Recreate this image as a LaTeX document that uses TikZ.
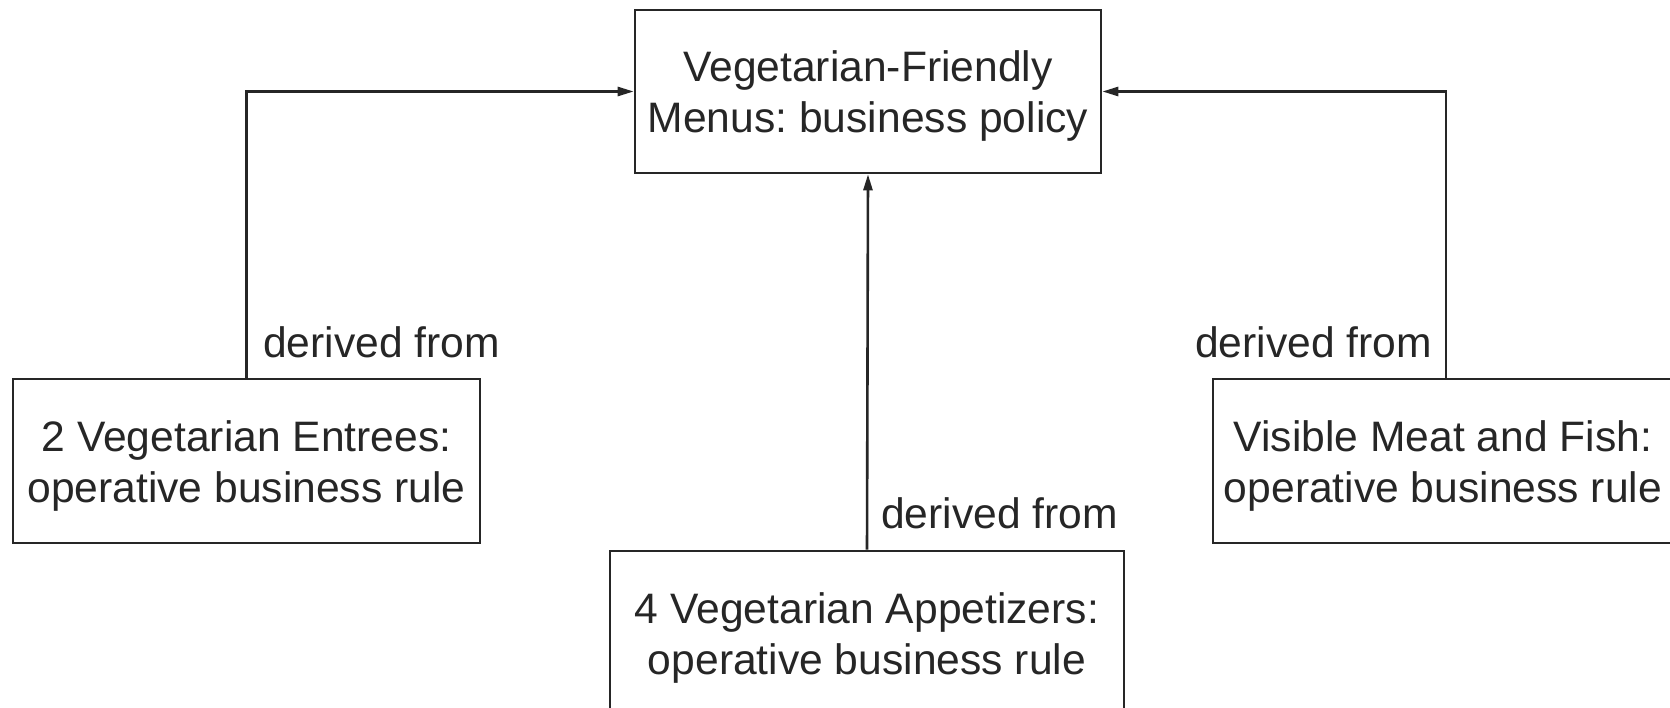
\documentclass[tikz,border=0pt]{standalone}
\usepackage{fontspec}
\setmainfont{Liberation Sans}
\frenchspacing
\usetikzlibrary{arrows.meta}
\newcommand\boxstrut{\rule{0pt}{40pt}}
\tikzset{
  rulebox/.style={draw=black!85, line width=2.6pt, align=center, inner sep=0pt,
    font=\fontsize{42.6}{51}\selectfont, text=black!85},
  lbl/.style={inner sep=0pt, font=\fontsize{42.6}{51}\selectfont, text=black!85},
  arr/.style={draw=black!85, line width=2.6pt, -{Triangle[length=16pt,width=9pt]}}
}
\begin{document}
\begin{tikzpicture}[x=1pt,y=-1pt]
\clip (0,0) rectangle (1670,707);
\fill[white] (0,0) rectangle (1670,707);
\node[rulebox, minimum width=466pt, minimum height=163pt] (top) at (868,91.5)
  {\boxstrut Vegetarian-Friendly\\Menus: business policy};
\node[rulebox, minimum width=467pt, minimum height=164pt] (left) at (246.5,461)
  {\boxstrut 2 Vegetarian Entrees:\\operative business rule};
\node[rulebox, minimum width=460pt, minimum height=164pt] (right) at (1443,461)
  {\boxstrut Visible Meat and Fish:\\operative business rule};
\node[rulebox, minimum width=514pt, minimum height=164pt] (bot) at (867,633)
  {\boxstrut 4 Vegetarian Appetizers:\\operative business rule};
\draw[arr] (left.north) |- (top.west);
\draw[arr] ([xshift=3pt]right.north) |- (top.east);
\draw[arr] (bot.north) -- (top.south);
\node[lbl, anchor=base west] (lblL) at (263,357) {derived from};
\node[lbl, anchor=base east] (lblR) at (1432,357) {derived from};
\node[lbl, anchor=base west] (lblM) at (881,528) {derived from};
\end{tikzpicture}
\end{document}
